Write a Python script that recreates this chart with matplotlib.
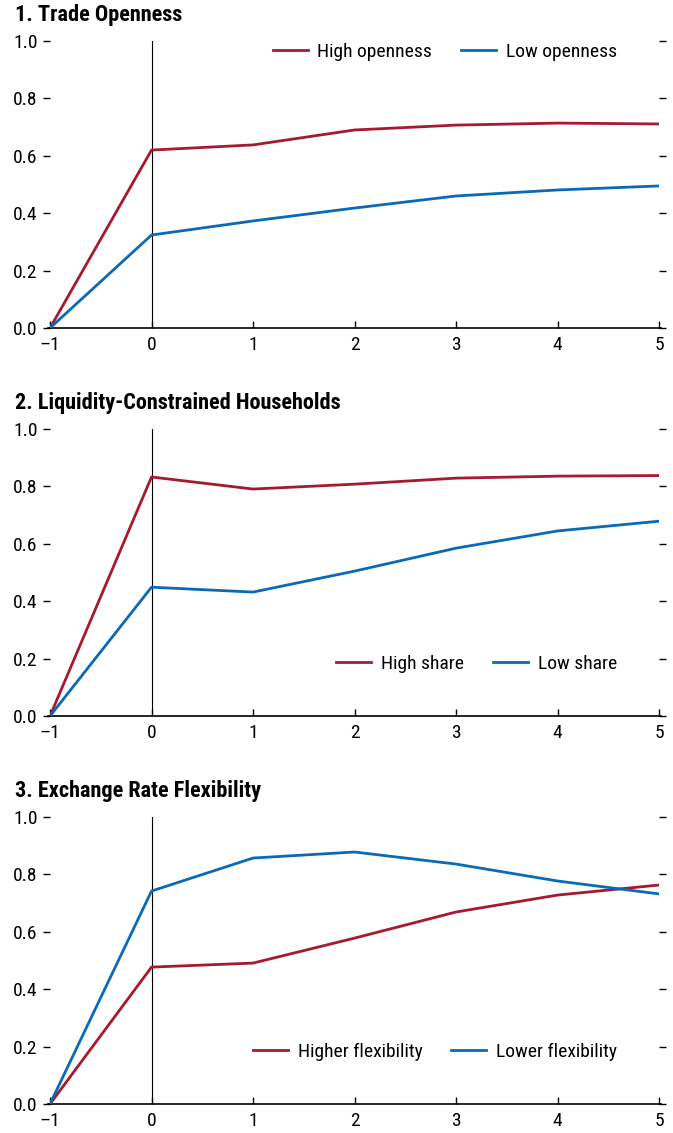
import matplotlib
matplotlib.use("Agg")
import matplotlib.pyplot as plt
from matplotlib import font_manager

# condensed face first, plain sans as a fallback
names = {f.name for f in font_manager.fontManager.ttflist}
family = 'Liberation Sans'
for cand in ['Liberation Sans Narrow', 'Roboto Condensed', 'Archivo Narrow', 'PT Sans Narrow', 'Open Sans Condensed']:
    if cand in names:
        family = cand
        break
plt.rcParams['font.family'] = [family, 'DejaVu Sans']
narrow = family != 'Liberation Sans'
fs = 14 if narrow else 13
title_fs = 16 if narrow else 14

RED = '#A6192E'
BLUE = '#0B6AB5'

horizon = [-1, 0, 1, 2, 3, 4, 5]
x_ticks = [-1, 0, 1, 2, 3, 4, 5]
x_labels = ['\u20131', '0', '1', '2', '3', '4', '5']
y_ticks = [0.0, 0.2, 0.4, 0.6, 0.8, 1.0]

# 1. trade openness
high_open = [0.0, 0.62, 0.638, 0.69, 0.707, 0.714, 0.711]
low_open = [0.0, 0.324, 0.373, 0.418, 0.46, 0.481, 0.495]

# 2. liquidity-constrained households
high_share = [0.0, 0.833, 0.791, 0.808, 0.829, 0.836, 0.838]
low_share = [0.0, 0.449, 0.432, 0.505, 0.585, 0.645, 0.679]

# 3. exchange rate flexibility
higher_flex = [0.0, 0.477, 0.491, 0.578, 0.669, 0.728, 0.763]
lower_flex = [0.0, 0.742, 0.857, 0.878, 0.836, 0.777, 0.732]

panels = [
    ('1. Trade Openness', high_open, low_open, 'High openness', 'Low openness', 0.7105, 'upper right'),
    ('2. Liquidity-Constrained Households', high_share, low_share, 'High share', 'Low share', 0.368, 'lower right'),
    ('3. Exchange Rate Flexibility', higher_flex, lower_flex, 'Higher flexibility', 'Lower flexibility', 0.0256, 'lower right'),
]

fig = plt.figure(figsize=(6.73, 11.33), dpi=100)

for title, red_vals, blue_vals, red_lab, blue_lab, bottom, loc in panels:
    ax = fig.add_axes([0.0743, bottom, 0.905, 0.2533])
    ax.plot(horizon, red_vals, color=RED, lw=2, label=red_lab, zorder=3)
    ax.plot(horizon, blue_vals, color=BLUE, lw=2, label=blue_lab, zorder=3)
    ax.plot([0, 0], [0, 1.0], color='black', lw=0.8, zorder=2)

    ax.set_xlim(-1, 5)
    ax.set_ylim(0, 1.0)
    ax.set_xticks(x_ticks)
    ax.set_xticklabels(x_labels)
    ax.set_yticks(y_ticks)
    ax.set_yticklabels([f'{v:.1f}' for v in y_ticks])

    for s in ['top', 'right', 'left']:
        ax.spines[s].set_visible(False)
    ax.spines['bottom'].set_linewidth(1.2)
    ax.spines['bottom'].set_bounds(-1.02, 5.02)

    ax.tick_params(axis='x', direction='in', length=5, width=1, labelsize=fs, pad=6)
    ax.tick_params(axis='y', direction='out', length=5, width=1, labelsize=fs, pad=4,
                   right=True, labelright=False)

    ax.text(-0.057, 1.09, title, transform=ax.transAxes, fontsize=title_fs,
            fontweight='bold', ha='left', va='center')

    if loc == 'upper right':
        anchor = (0.96, 1.055)
    else:
        anchor = (0.96, 0.09)
    ax.legend(loc=loc, bbox_to_anchor=anchor, ncol=2, frameon=False, fontsize=fs,
              handlelength=1.8, columnspacing=1.5, handletextpad=0.5)

fig.savefig('out.png', dpi=100)
